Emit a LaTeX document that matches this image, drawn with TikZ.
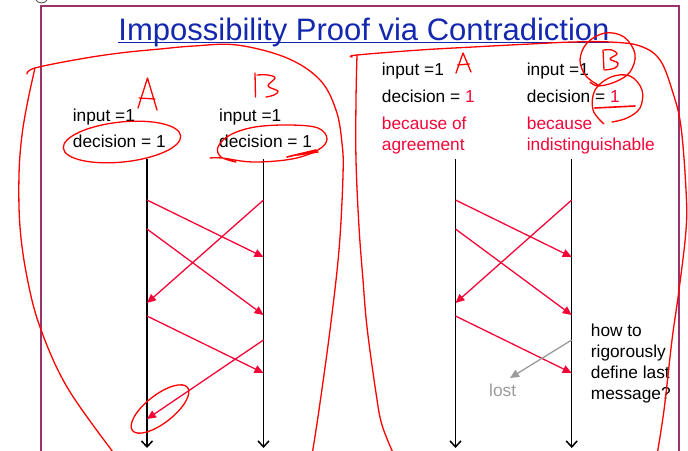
\documentclass[tikz,border=0pt]{standalone}
\usepackage{fontspec}
\setmainfont{Liberation Sans}
\usetikzlibrary{arrows.meta}
\definecolor{framec}{RGB}{153,51,110}
\definecolor{titleblue}{RGB}{20,40,175}
\definecolor{msgred}{RGB}{245,5,55}
\definecolor{inkred}{RGB}{255,0,0}
\definecolor{lostgray}{RGB}{155,155,155}
\begin{document}
\begin{tikzpicture}[x=1pt,y=-1pt,
  txt/.style={anchor=base west, inner sep=0pt, font=\fontsize{17.3}{20}\selectfont},
  rtxt/.style={txt, text=msgred},
  life/.style={line width=1.5pt, -{Straight Barb[length=6pt,width=11pt]}},
  msg/.style={msgred, line width=1.3pt, -{Triangle[length=9pt,width=8pt]}},
  lostmsg/.style={lostgray, line width=1.3pt, -{Triangle[length=9pt,width=8pt]}},
  hand/.style={inkred, line width=1.3pt, line cap=round, line join=round},
]
\useasboundingbox (0,0) rectangle (688,450);
\clip (0,0) rectangle (688,450);
% slide frame and stray glyph
\draw[framec, line width=1.6pt] (41,460) -- (41,6) -- (679,6) -- (679,460);
\draw[line width=0.9pt, gray!70!black] (36,0) .. controls (38,3.8) and (45,3.8) .. (47,0);
% title
\node[anchor=base, inner sep=0pt, text=titleblue, font=\fontsize{31}{36}\selectfont] (title) at (364,40) {Impossibility Proof via Contradiction};
\draw[titleblue, line width=1.5pt] ([yshift=-2.5pt]title.base west) -- ([yshift=-2.5pt]title.base east);

% left panel texts
\node[txt] (lai) at (72.7,121) {input =1};
\node[txt] (lad) at (72.7,147.5) {decision = 1};
\node[txt] (lbi) at (219,121) {input =1};
\node[txt] (lbd) at (219,147.5) {decision = 1};
% right panel texts
\node[txt] (rai) at (381.7,75) {input =1};
\node[txt] (rad) at (381.7,102) {decision = {\color{msgred}1}};
\node[rtxt] (rar1) at (381.7,129) {because of};
\node[rtxt] (rar2) at (381.7,150) {agreement};
\node[txt] (rbi) at (526.7,75) {input =1};
\node[txt] (rbd) at (526.7,102) {decision = {\color{msgred}1}};
\node[rtxt] (rbr1) at (526.7,129) {because};
\node[rtxt] (rbr2) at (526.7,150) {indistinguishable};
\node[txt] (q1) at (590.7,336.7) {how to};
\node[txt] (q2) at (590.7,357.3) {rigorously};
\node[txt] (q3) at (590.7,378) {define last};
\node[txt] (q4) at (590.7,399) {message?};
\node[txt, text=lostgray] (lost) at (489,396.7) {lost};

% lifelines
\foreach \n/\x in {la/147, lb/263.5, ra/455.5, rb/571.7}{
  \coordinate (\n top) at (\x,159);
  \coordinate (\n bot) at (\x,448);
  \foreach \y in {200,229,257,303,315,316,340,373,419}{
    \coordinate (\n\y) at (\x,\y);
  }
}
\foreach \n in {la,lb,ra,rb}{ \draw[life] (\n top) -- (\n bot); }
\coordinate (lostend) at (510,378);

% messages left
\draw[msg] (la200) -- (lb257);
\draw[msg] (lb200) -- (la303);
\draw[msg] (la229) -- (lb315);
\draw[msg] (la316) -- (lb373);
\draw[msg] (lb340) -- (la419);
% messages right
\draw[msg] (ra200) -- (rb257);
\draw[msg] (rb200) -- (ra303);
\draw[msg] (ra229) -- (rb315);
\draw[msg] (ra316) -- (rb373);
\draw[lostmsg] (rb340) -- (lostend);

% hand-drawn annotations: left region
\draw[hand] plot[smooth, tension=0.6] coordinates {(27,74) (35,68) (80,59) (120,53) (160,49) (194,46) (237,45) (287,58) (320,80) (336,110) (342,143) (343,175) (339,250) (330,330) (319,410) (312,455)};
\draw[hand] plot[smooth, tension=0.6] coordinates {(35,68) (28,100) (22,135) (19,175) (20,227) (27,277) (40,327) (67,387) (113,452)};
% right region
\draw[hand] plot[smooth, tension=0.6] coordinates {(352,57) (357,55) (420,50) (473,47) (530,44) (573,42) (610,42) (640,46) (660,60) (673,93) (681,127) (686,190) (686,230) (679,290) (672,340) (664,410) (657,455)};
\draw[hand] plot[smooth, tension=0.6] coordinates {(357,55) (356,100) (356,160) (359,227) (363,280) (367,327) (376,393) (382,425) (394,455)};
% letters
\draw[hand] (138,108) -- (147.5,78) -- (157,110);
\draw[hand] (139,98) -- (155,99);
\draw[hand] (255,73) -- (255.5,97);
\draw[hand] plot[smooth, tension=0.6] coordinates {(257,75) (268,75) (275,78) (268,86) (278,91) (274,95) (266,97)};
\draw[hand] (456,73) -- (463,53) -- (471,72);
\draw[hand] (457.5,65) -- (469.5,64);
\draw[hand] (603,50) -- (604,70);
\draw[hand] plot[smooth, tension=0.6] coordinates {(604,50) (612,50) (617,54) (610,59) (618,63) (615,68) (605,70)};
% circles / ellipses
\draw[hand, rotate around={6:(122,142)}] (122,142) ellipse [x radius=59pt, y radius=20pt];
\draw[hand] plot[smooth, tension=0.6] coordinates {(210,158) (222,158) (253,162) (292,159) (318,150) (327,139) (318,128) (290,125) (255,127) (230,135) (218,147) (221,157) (236,162)};
\draw[hand, line width=1.6pt] (287,157) -- (316,150) -- (297,155) -- (318,152);
\draw[hand, rotate around={38:(160,409)}] (160,409) ellipse [x radius=35pt, y radius=14pt];
\draw[hand] plot[smooth, tension=0.6] coordinates {(600,86) (586,76) (580,60) (587,43) (605,33) (624,37) (635,54) (630,72) (615,82) (598,86) (590,82)};
\draw[hand] plot[smooth, tension=0.6] coordinates {(604,124) (593,110) (595,90) (611,77) (630,76) (642,90) (640,108) (627,118) (612,122)};
\draw[hand, line width=1.6pt] (595,108) -- (635,106);
\end{tikzpicture}
\end{document}
